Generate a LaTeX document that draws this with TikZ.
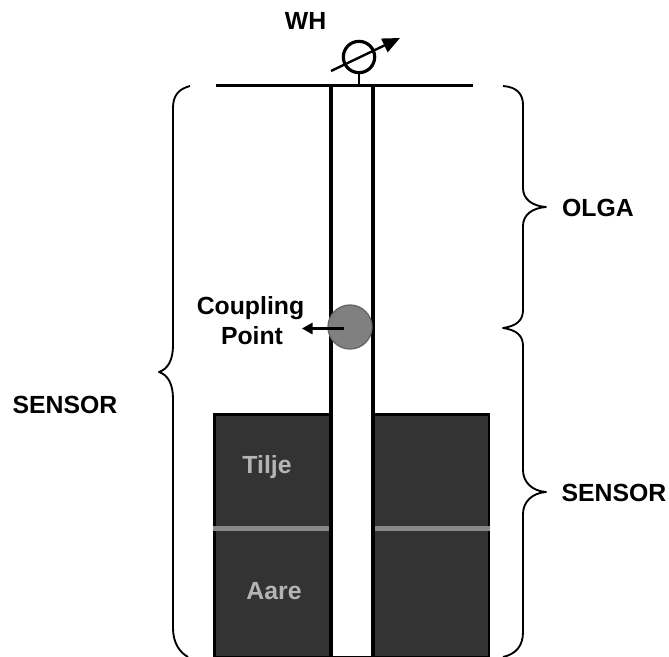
\documentclass[tikz,border=0pt]{standalone}
\usepackage{fontspec}
\setmainfont{Liberation Sans}
\usetikzlibrary{arrows.meta}
\definecolor{rock}{HTML}{333333}
\definecolor{layer}{HTML}{888888}
\definecolor{coup}{HTML}{808080}
\definecolor{rocktext}{HTML}{B4B4B4}
\tikzset{
  px/.style={x=0.75pt,y=-0.75pt},
  lab/.style={font=\fontsize{18.6}{21}\selectfont\bfseries,inner sep=0pt,align=center,text=black},
  rocklab/.style={lab,text=rocktext},
  wall/.style={line width=2.7pt,black},
  bracecurve/.style={line width=1.4pt,black,line join=round},
  layerline/.style={line width=3.4pt,layer},
}
\begin{document}
\begin{tikzpicture}[px]
\useasboundingbox (0,0) rectangle (669,657);
\fill[white] (0,0) rectangle (669,657);
% rock block
\fill[black] (213,413) rectangle (490,657);
\fill[rock] (216,416) rectangle (488,655.5);
% layer boundary
\coordinate (ll1) at (213,528.5); \coordinate (ll2) at (329,528.5);
\coordinate (lr1) at (375,528.5); \coordinate (lr2) at (490,528.5);
\draw[layerline] (ll1) -- (ll2);
\draw[layerline] (lr1) -- (lr2);
% well bore
\fill[white] (331,86) rectangle (373,655.5);
\coordinate (wl1) at (331,85); \coordinate (wl2) at (331,657);
\coordinate (wr1) at (373,85); \coordinate (wr2) at (373,657);
\draw[wall] (wl1) -- (wl2);
\draw[wall] (wr1) -- (wr2);
% top line
\coordinate (t1) at (216,85.5); \coordinate (t2) at (473,85.5);
\draw[line width=2.4pt,black] (t1) -- (t2);
% WH valve
\node[circle,draw=black,line width=2.4pt,fill=white,minimum size=23.5pt,inner sep=0pt] (valve) at (359,57) {};
\coordinate (stemb) at (359,85);
\draw[line width=2.2pt,black] (valve.south) -- (stemb);
\coordinate (va) at (331,71); \coordinate (vb) at (400,38);
\draw[line width=1.8pt,black,-{Triangle[length=13pt,width=11pt]}] (va) -- (vb);
% coupling point
\node[circle,draw=black!60,line width=1pt,fill=coup,minimum size=33pt,inner sep=0pt] (cp) at (350,327) {};
\coordinate (cpa) at (344,328.5); \coordinate (cpb) at (302,328.5);
\draw[line width=1.6pt,black,-{Triangle[length=8pt,width=8.5pt]}] (cpa) -- (cpb);
% braces
\draw[bracecurve] (190,86) .. controls (179,89) and (173,95) .. (173,108) -- (173,345)
  .. controls (173,360) and (168,369) .. (159,372)
  .. controls (168,375) and (173,384) .. (173,399) -- (173,628)
  .. controls (173,642) and (179,652) .. (188,657);
\draw[bracecurve] (503,86) .. controls (517,87) and (523,94) .. (523,105) -- (523,188)
  .. controls (523,199) and (532,206) .. (546,207)
  .. controls (532,208) and (523,215) .. (523,226) -- (523,310)
  .. controls (523,320) and (517,326) .. (503,328)
  .. controls (517,330) and (523,336) .. (523,346) -- (523,470)
  .. controls (523,482) and (532,491) .. (546,492)
  .. controls (532,493) and (523,502) .. (523,514) -- (523,632)
  .. controls (523,646) and (516,654) .. (503,657);
% labels
\node[lab] (wh) at (305.5,21) {WH};
\node[lab] (olga) at (598,208) {OLGA};
\node[lab] (sr) at (614,492.5) {SENSOR};
\node[lab] (sl) at (65,405) {SENSOR};
\node[lab] (cpl1) at (250.5,308) {Coupling};
\node[lab] (cpl2) at (252,336) {Point};
\node[rocklab] (tilje) at (267,467) {Tilje};
\node[rocklab] (aare) at (274,591) {Aare};
\end{tikzpicture}
\end{document}
